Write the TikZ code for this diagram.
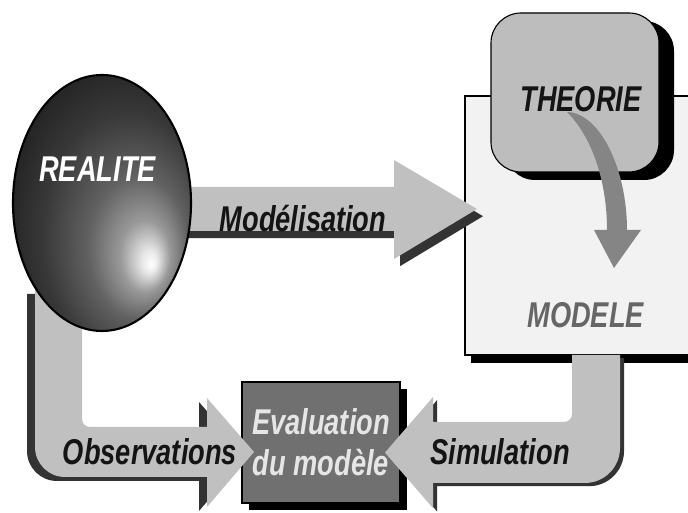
\documentclass[tikz,border=0pt]{standalone}
\usepackage{fontspec}
\newfontfamily\diafont[FakeStretch=0.76]{Liberation Sans}
\usetikzlibrary{shapes.geometric}
\definecolor{arrowgray}{RGB}{192,192,192}
\definecolor{shadowgray}{RGB}{51,51,51}
\definecolor{theogray}{RGB}{189,189,189}
\definecolor{modgray}{RGB}{242,242,242}
\definecolor{evalgray}{RGB}{112,112,112}
\definecolor{curvegray}{RGB}{133,133,133}
\definecolor{evaltext}{RGB}{230,230,230}
\definecolor{modtext}{RGB}{102,102,102}
\definecolor{textdark}{RGB}{20,20,20}
\pgfdeclareradialshading{realiteball}{\pgfpoint{14bp}{-12bp}}{color(0bp)=(white); color(2bp)=(white!92!black); color(7bp)=(black!40); color(14bp)=(black!62); color(24bp)=(black!78); color(36bp)=(black!90); color(46bp)=(black); color(50bp)=(black)}
\tikzset{
  lbl/.style={font=\diafont\bfseries\itshape\fontsize{25.5}{29}\selectfont, inner sep=0pt, anchor=base},
  frame/.style={draw=black, line width=0.8pt}
}

\begin{document}
\begin{tikzpicture}[>=stealth]
	\clip (0,0) rectangle (17.2,12.825);

	% MODELE frame
	\fill[black] (11.775,3.75) rectangle (17.7,10.225);
	\draw[frame, fill=modgray] (11.625,3.95) rectangle (17.5,10.425);

	% Evaluation box
	\fill[black] (6.23,0.07) rectangle (10.18,3.095);
	\node[frame, fill=evalgray, minimum width=3.95cm, minimum height=3.025cm, inner sep=0pt,
		text=evaltext, align=center, font=\diafont\bfseries\itshape\fontsize{25.5}{29}\selectfont]
		(eval) at (8.025,1.7625) {Evaluation\\du mod\`ele};

	% Observations
	\begin{scope}[shift={(-0.2,-0.1)}]
		\fill[shadowgray] (2.05,5.575) -- (2.05,2.35) arc[start angle=180, end angle=270, radius=0.2] -- (5.175,2.15) -- (5.175,2.875) -- (6.35,1.525) -- (5.175,0.15) -- (5.175,0.9) -- (1.625,0.9) arc[start angle=270, end angle=180, radius=0.75] -- (0.875,5.575) -- cycle;
	\end{scope}
	\fill[arrowgray] (2.05,5.575) -- (2.05,2.35) arc[start angle=180, end angle=270, radius=0.2] -- (5.175,2.15) -- (5.175,2.875) -- (6.35,1.525) -- (5.175,0.15) -- (5.175,0.9) -- (1.625,0.9) arc[start angle=270, end angle=180, radius=0.75] -- (0.875,5.575) -- cycle;

	% Simulation
	\begin{scope}[shift={(0.1,-0.08)}]
		\fill[shadowgray] (14.3,3.95) -- (14.3,2.475) arc[start angle=0, end angle=-90, radius=0.2] -- (10.825,2.275) -- (10.825,2.9) -- (9.625,1.51) -- (10.825,0.12) -- (10.825,0.75) -- (14.625,0.75) arc[start angle=-90, end angle=0, radius=0.875] -- (15.5,3.95) -- cycle;
	\end{scope}
	\fill[arrowgray] (14.3,3.95) -- (14.3,2.475) arc[start angle=0, end angle=-90, radius=0.2] -- (10.825,2.275) -- (10.825,2.9) -- (9.625,1.51) -- (10.825,0.12) -- (10.825,0.75) -- (14.625,0.75) arc[start angle=-90, end angle=0, radius=0.875] -- (15.5,3.95) -- cycle;

	% Modelisation
	\begin{scope}[shift={(0.15,-0.18)}]
		\fill[shadowgray] (4.5,8.15) -- (9.85,8.15) -- (9.85,8.825) -- (11.925,7.6) -- (9.85,6.35) -- (9.85,7.05) -- (4.5,7.05) -- cycle;
	\end{scope}
	\fill[arrowgray] (4.5,8.15) -- (9.85,8.15) -- (9.85,8.825) -- (11.925,7.6) -- (9.85,6.35) -- (9.85,7.05) -- (4.5,7.05) -- cycle;

	% REALITE sphere
	\node[ellipse, minimum width=4.45cm, minimum height=6.4cm, inner sep=0pt, shade, shading=realiteball,
		draw=black, line width=1.5pt] (realite) at (2.55,7.75) {};

	% THEORIE box
	\fill[black, rounded corners=0.75cm] (12.625,8.325) rectangle (16.85,12.3);
	\draw[frame, fill=theogray, rounded corners=0.75cm] (12.275,8.525) rectangle (16.475,12.5);
	\fill[curvegray] (14.175,10.025) .. controls (15.0,10.0) and (15.675,8.6) .. (15.675,7.075) -- (16.025,7.075) -- (15.35,6.125) -- (14.85,7.075) -- (15.175,7.075) .. controls (15.175,8.3) and (14.8,9.4) .. (14.175,10.025) -- cycle;

	% labels
	\node[lbl, white] (realitetxt) at (2.44,8.275) {REALITE};
	\node[lbl, textdark] (modeltxt) at (7.575,7.025) {Mod\'elisation};
	\node[lbl, textdark] (theotxt) at (14.525,10.025) {THEORIE};
	\node[lbl, modtext] (modeletxt) at (14.64,4.625) {MODELE};
	\node[lbl, textdark] (obstxt) at (3.75,1.2) {Observations};
	\node[lbl, textdark] (simtxt) at (12.5,1.2) {Simulation};

\end{tikzpicture}
\end{document}
